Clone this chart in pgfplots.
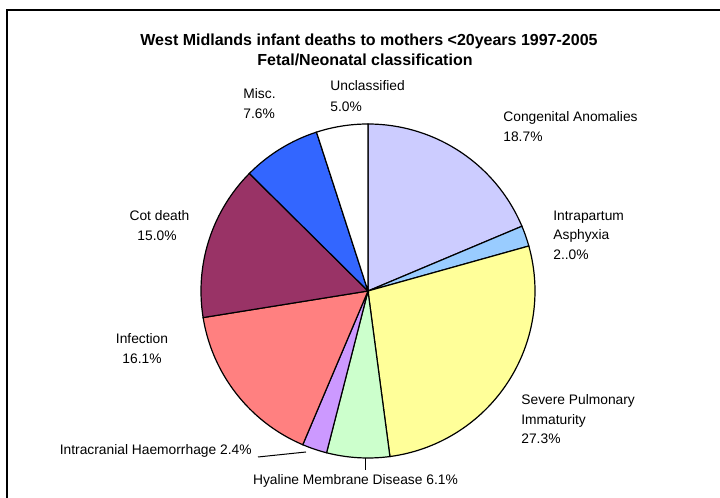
\documentclass[border=0pt]{standalone}
\usepackage{fontspec}
\setmainfont{Liberation Sans}
\usepackage{pgfplots}
\pgfplotsset{compat=1.18}
\definecolor{cCong}{RGB}{204,204,255}
\definecolor{cAsph}{RGB}{153,204,255}
\definecolor{cSev}{RGB}{255,255,153}
\definecolor{cHyal}{RGB}{204,255,204}
\definecolor{cIntra}{RGB}{204,153,255}
\definecolor{cInf}{RGB}{255,128,128}
\definecolor{cCot}{RGB}{153,51,102}
\definecolor{cMisc}{RGB}{51,102,255}
\definecolor{cUncl}{RGB}{255,255,255}
% Shares (%): Congenital 18.7, Intrapartum 2.0, Severe Pulmonary 27.3,
% Hyaline 6.1, Intracranial 2.4, Infection 16.1, Cot death 15.0, Misc 7.6, Unclassified 5.0
% Slice boundaries: 90 - cumulative*360/100.2 degrees (clockwise from 12 o'clock)
\newcommand{\slice}[3]{%
  \addplot[fill=#3, draw=black, line width=0.6pt, domain=#1:#2, samples=80]
    ({368+167*cos(x)},{207+167*sin(x)}) -- (axis cs:368,207) -- cycle;}
\tikzset{lbl/.style={font=\fontsize{6.9}{8}\selectfont, inner sep=0pt},
         ttl/.style={font=\fontsize{8}{9}\selectfont\bfseries, inner sep=0pt}}
\begin{document}
\begin{tikzpicture}
\begin{axis}[
  scale only axis, width=360pt, height=249pt,
  xmin=0, xmax=720, ymin=0, ymax=498,
  hide axis, clip=false,
]
\slice{22.815}{90}{cCong}
\slice{15.629}{22.815}{cAsph}
\slice{-82.455}{15.629}{cSev}
\slice{-104.371}{-82.455}{cHyal}
\slice{-112.994}{-104.371}{cIntra}
\slice{-170.838}{-112.994}{cInf}
\slice{-224.731}{-170.838}{cCot}
\slice{-252.036}{-224.731}{cMisc}
\slice{-270}{-252.036}{cUncl}
% frame
\draw[line width=0.6pt] (axis cs:7,0) -- (axis cs:7,488) -- (axis cs:720,488);
% title
\node[ttl, anchor=base] at (axis cs:369,452) {West Midlands infant deaths to mothers <20years 1997-2005};
\node[ttl, anchor=base] at (axis cs:365,432) {Fetal/Neonatal classification};
% labels
\node[lbl, anchor=base west] at (axis cs:330,407) {Unclassified};
\node[lbl, anchor=base west] at (axis cs:330,386) {5.0\%};
\node[lbl, anchor=base west] at (axis cs:243,399) {Misc.};
\node[lbl, anchor=base west] at (axis cs:243,379) {7.6\%};
\node[lbl, anchor=base west] at (axis cs:503,376) {Congenital Anomalies};
\node[lbl, anchor=base west] at (axis cs:503,356) {18.7\%};
\node[lbl, anchor=base west] at (axis cs:553,277) {Intrapartum};
\node[lbl, anchor=base west] at (axis cs:553,258) {Asphyxia};
\node[lbl, anchor=base west] at (axis cs:553,238) {2..0\%};
\node[lbl, anchor=base west] at (axis cs:521,93) {Severe Pulmonary};
\node[lbl, anchor=base west] at (axis cs:521,73) {Immaturity};
\node[lbl, anchor=base west] at (axis cs:521,54) {27.3\%};
\node[lbl, anchor=base] at (axis cs:159.5,277) {Cot death};
\node[lbl, anchor=base] at (axis cs:157,257) {15.0\%};
\node[lbl, anchor=base] at (axis cs:142,154) {Infection};
\node[lbl, anchor=base] at (axis cs:142,134) {16.1\%};
\node[lbl, anchor=base east] at (axis cs:252,43) {Intracranial Haemorrhage 2.4\%};
\node[lbl, anchor=base] at (axis cs:355.5,13) {Hyaline Membrane Disease 6.1\%};
% leader lines
\draw[line width=0.5pt] (axis cs:258,41) -- (axis cs:306,46);
\draw[line width=0.5pt] (axis cs:366,40) -- (axis cs:366,28);
\end{axis}
\pgfresetboundingbox
\path (current axis.south west) rectangle (current axis.north east);
\end{tikzpicture}
\end{document}
